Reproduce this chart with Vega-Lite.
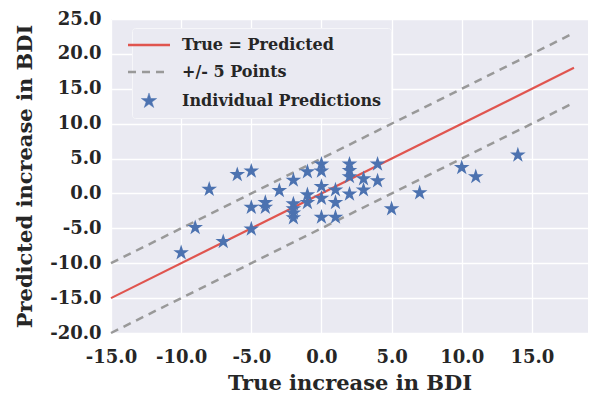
{
  "$schema": "https://vega.github.io/schema/vega-lite/v6.json",
  "autosize": {"type": "none"},
  "width": 477,
  "height": 314,
  "padding": {"left": 111, "top": 19, "right": 4, "bottom": 66},
  "background": "white",
  "config": {
    "view": {"fill": "#EAEAF2", "stroke": null},
    "axis": {
      "domain": false,
      "ticks": false,
      "tickSize": 0,
      "grid": true,
      "gridColor": "#FFFFFF",
      "gridWidth": 1.3,
      "labelFont": "DejaVu Serif",
      "labelFontWeight": "bold",
      "labelFontSize": 18,
      "labelColor": "#262626",
      "titleFont": "DejaVu Serif",
      "titleFontWeight": "bold",
      "titleFontSize": 21,
      "titleColor": "#262626",
      "labelFlush": false,
      "labelOverlap": false
    },
    "legend": {
      "labelFont": "DejaVu Serif",
      "labelFontWeight": "bold",
      "labelFontSize": 16,
      "labelColor": "#262626",
      "labelLimit": 400
    }
  },
  "datasets": {
    "lines": [
      {"x": -15, "y": -15, "series": "True = Predicted", "band": "mid"},
      {"x": 18, "y": 18, "series": "True = Predicted", "band": "mid"},
      {"x": -15, "y": -10, "series": "+/- 5 Points", "band": "upper"},
      {"x": 18, "y": 23, "series": "+/- 5 Points", "band": "upper"},
      {"x": -15, "y": -20, "series": "+/- 5 Points", "band": "lower"},
      {"x": 18, "y": 13, "series": "+/- 5 Points", "band": "lower"}
    ],
    "points": [
      {"x": -10, "y": -8.5, "series": "Individual Predictions"},
      {"x": -9, "y": -4.9, "series": "Individual Predictions"},
      {"x": -8, "y": 0.6, "series": "Individual Predictions"},
      {"x": -7, "y": -6.9, "series": "Individual Predictions"},
      {"x": -6, "y": 2.7, "series": "Individual Predictions"},
      {"x": -5, "y": 3.2, "series": "Individual Predictions"},
      {"x": -5, "y": -2.0, "series": "Individual Predictions"},
      {"x": -5, "y": -5.1, "series": "Individual Predictions"},
      {"x": -4, "y": -1.3, "series": "Individual Predictions"},
      {"x": -4, "y": -2.0, "series": "Individual Predictions"},
      {"x": -3, "y": 0.4, "series": "Individual Predictions"},
      {"x": -2, "y": 1.9, "series": "Individual Predictions"},
      {"x": -2, "y": -1.5, "series": "Individual Predictions"},
      {"x": -2, "y": -2.2, "series": "Individual Predictions"},
      {"x": -2, "y": -2.8, "series": "Individual Predictions"},
      {"x": -2, "y": -3.5, "series": "Individual Predictions"},
      {"x": -1, "y": 3.1, "series": "Individual Predictions"},
      {"x": -1, "y": -0.2, "series": "Individual Predictions"},
      {"x": -1, "y": -1.3, "series": "Individual Predictions"},
      {"x": 0, "y": 4.2, "series": "Individual Predictions"},
      {"x": 0, "y": 3.2, "series": "Individual Predictions"},
      {"x": 0, "y": 1.0, "series": "Individual Predictions"},
      {"x": 0, "y": -0.7, "series": "Individual Predictions"},
      {"x": 0, "y": -3.4, "series": "Individual Predictions"},
      {"x": 1, "y": 0.5, "series": "Individual Predictions"},
      {"x": 1, "y": -1.3, "series": "Individual Predictions"},
      {"x": 1, "y": -3.4, "series": "Individual Predictions"},
      {"x": 2, "y": 4.2, "series": "Individual Predictions"},
      {"x": 2, "y": 3.3, "series": "Individual Predictions"},
      {"x": 2, "y": 2.4, "series": "Individual Predictions"},
      {"x": 2, "y": -0.1, "series": "Individual Predictions"},
      {"x": 3, "y": 2.1, "series": "Individual Predictions"},
      {"x": 3, "y": 0.5, "series": "Individual Predictions"},
      {"x": 4, "y": 4.2, "series": "Individual Predictions"},
      {"x": 4, "y": 1.8, "series": "Individual Predictions"},
      {"x": 5, "y": -2.2, "series": "Individual Predictions"},
      {"x": 7, "y": 0.1, "series": "Individual Predictions"},
      {"x": 10, "y": 3.7, "series": "Individual Predictions"},
      {"x": 11, "y": 2.4, "series": "Individual Predictions"},
      {"x": 14, "y": 5.5, "series": "Individual Predictions"}
    ]
  },
  "encoding": {
    "x": {
      "field": "x", "type": "quantitative",
      "scale": {"domain": [-15, 19], "nice": false, "zero": false},
      "axis": {
        "title": "True increase in BDI",
        "values": [-15, -10, -5, 0, 5, 10, 15],
        "labelExpr": "(datum.value < 0 ? '-' : '') + format(abs(datum.value), '.1f')",
        "labelPadding": 15,
        "titlePadding": 6
      }
    },
    "y": {
      "field": "y", "type": "quantitative",
      "scale": {"domain": [-20, 25], "nice": false, "zero": false},
      "axis": {
        "title": "Predicted increase in BDI",
        "values": [-20, -15, -10, -5, 0, 5, 10, 15, 20, 25],
        "labelExpr": "(datum.value < 0 ? '-' : '') + format(abs(datum.value), '.1f')",
        "labelPadding": 10,
        "titlePadding": 14
      }
    },
    "color": {
      "field": "series", "type": "nominal",
      "scale": {
        "domain": ["True = Predicted", "+/- 5 Points", "Individual Predictions"],
        "range": ["#E0554F", "#999999", "#4C72B0"]
      },
      "legend": {
        "title": null,
        "orient": "none",
        "legendX": 21,
        "legendY": 9,
        "padding": 9,
        "rowPadding": 11,
        "labelOffset": 25,
        "symbolType": "stroke",
        "symbolSize": 1764,
        "fillColor": "#EAEAF2",
        "strokeColor": "#F6F6F9",
        "cornerRadius": 3,
        "encode": {
          "symbols": {
            "update": {
              "shape": {"signal": "datum.value === 'Individual Predictions' ? 'M0,-1L0.2245,-0.309L0.951,-0.309L0.363,0.118L0.588,0.809L0,0.382L-0.588,0.809L-0.363,0.118L-0.951,-0.309L-0.2245,-0.309Z' : 'stroke'"},
              "size": {"signal": "datum.value === 'Individual Predictions' ? 260 : 1764"},
              "strokeDash": {"signal": "datum.value === '+/- 5 Points' ? [8, 6] : [1, 0]"},
              "fill": {"signal": "datum.value === 'Individual Predictions' ? '#4C72B0' : 'transparent'"},
              "stroke": {"signal": "datum.value === 'True = Predicted' ? '#E0554F' : (datum.value === '+/- 5 Points' ? '#999999' : '#4C72B0')"},
              "strokeWidth": {"signal": "datum.value === 'Individual Predictions' ? 0.5 : 2.5"},
              "opacity": {"value": 1}
            }
          }
        }
      }
    }
  },
  "layer": [
    {
      "data": {"name": "lines"},
      "transform": [{"filter": "datum.band === 'mid'"}],
      "mark": {"type": "line", "strokeWidth": 2.2}
    },
    {
      "data": {"name": "lines"},
      "transform": [{"filter": "datum.band !== 'mid'"}],
      "mark": {"type": "line", "strokeWidth": 2.5, "strokeDash": [8, 6]},
      "encoding": {"detail": {"field": "band"}}
    },
    {
      "data": {"name": "points"},
      "mark": {
        "type": "point",
        "filled": true,
        "opacity": 1,
        "size": 270,
        "shape": "M0,-1L0.2245,-0.309L0.951,-0.309L0.363,0.118L0.588,0.809L0,0.382L-0.588,0.809L-0.363,0.118L-0.951,-0.309L-0.2245,-0.309Z"
      }
    }
  ]
}
